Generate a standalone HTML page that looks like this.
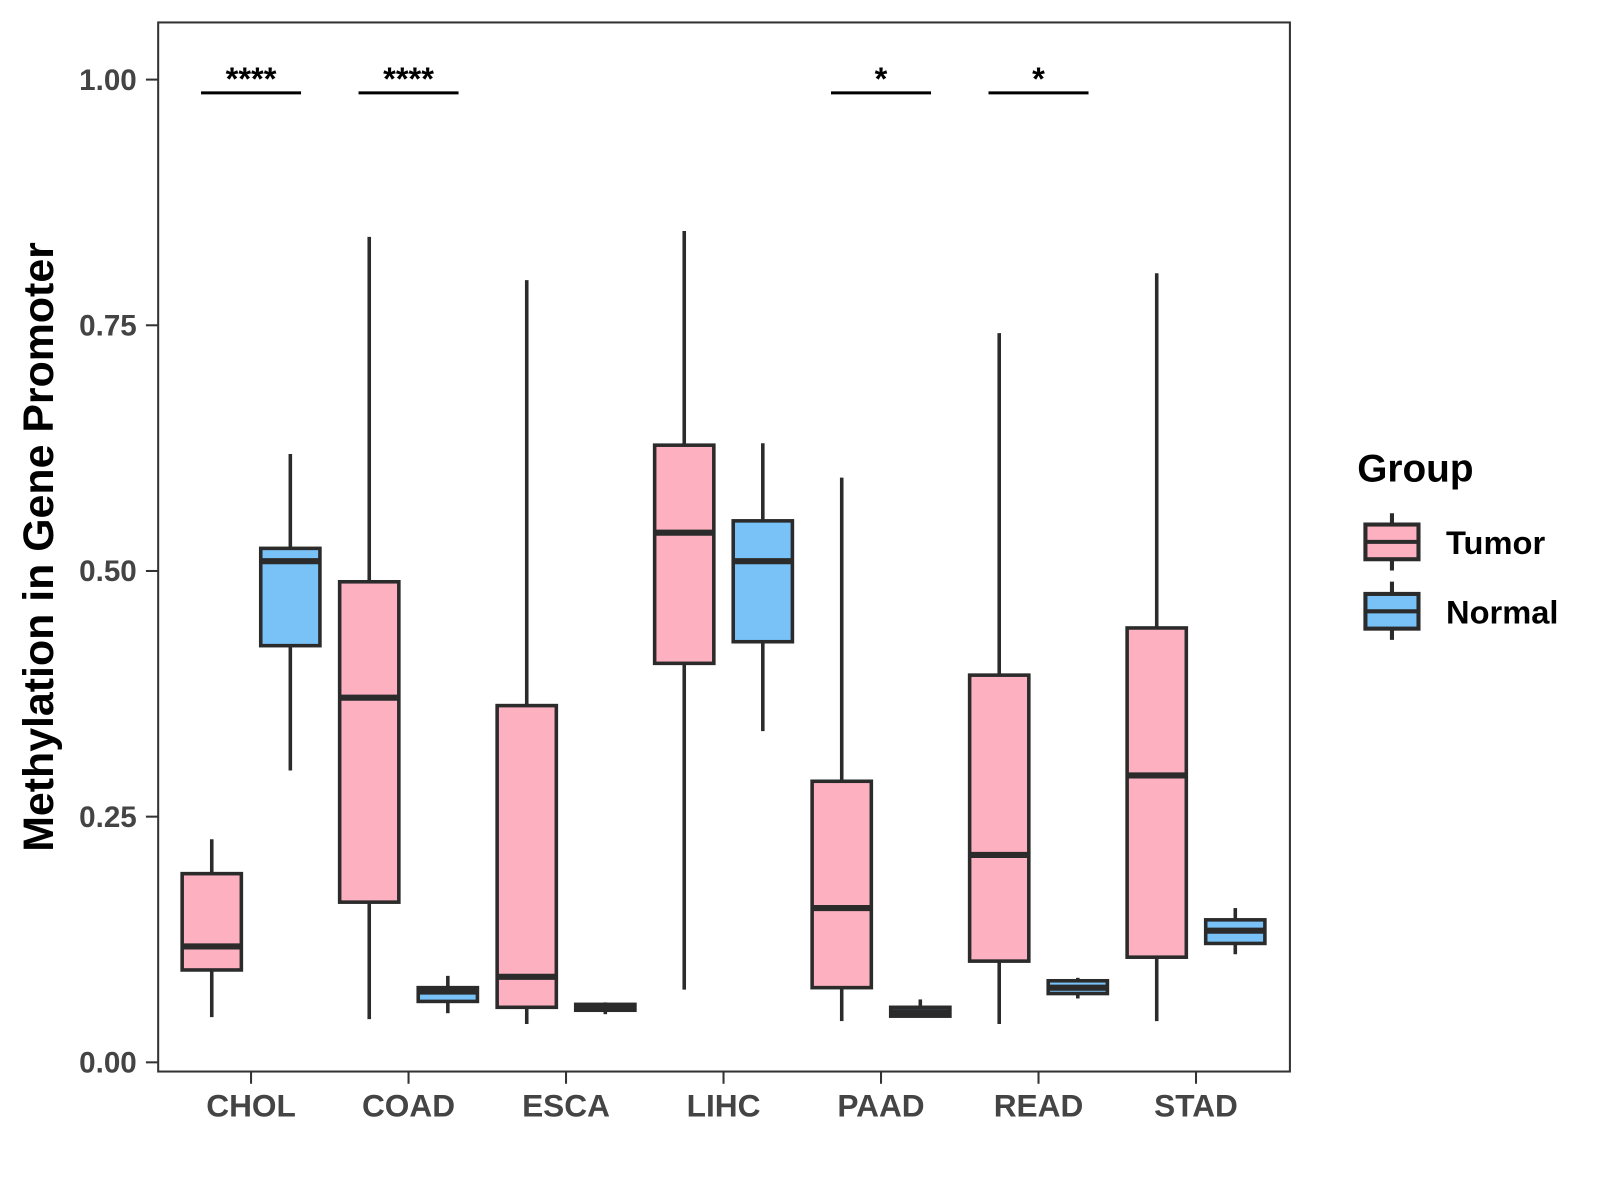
<!DOCTYPE html>
<html><head><meta charset="utf-8"><style>
html,body{margin:0;padding:0;background:#fff;}
svg{display:block;font-family:"Liberation Sans",Arial,sans-serif;}
</style></head><body>
<svg id="chart" width="1600" height="1200" viewBox="0 0 1600 1200">
<rect x="0" y="0" width="1600" height="1200" fill="#fff"/>
<g transform="scale(1.0205)">
<g id="plot"></g>
<rect x="155" y="22" width="1109" height="1028" fill="none" stroke="#333" stroke-width="2"/>
<text x="0" y="0" transform="translate(52,536) rotate(-90)" text-anchor="middle" font-size="42" font-weight="bold" fill="#000">Methylation in Gene Promoter</text>
<g>
<text x="1330" y="472" font-size="38" font-weight="bold">Group</text>
<g>
<line x1="1364" y1="503" x2="1364" y2="559" stroke="#2b2b2b" stroke-width="4"/>
<rect x="1338" y="514" width="52" height="34" fill="#fdb0c0" stroke="#2b2b2b" stroke-width="4"/>
<line x1="1338" y1="531" x2="1390" y2="531" stroke="#2b2b2b" stroke-width="4"/>
<text x="1417" y="543" font-size="32" font-weight="bold">Tumor</text>
</g>
<g>
<line x1="1364" y1="570" x2="1364" y2="627" stroke="#2b2b2b" stroke-width="4"/>
<rect x="1338" y="582" width="52" height="34" fill="#79c2f8" stroke="#2b2b2b" stroke-width="4"/>
<line x1="1338" y1="599" x2="1390" y2="599" stroke="#2b2b2b" stroke-width="4"/>
<text x="1417" y="611" font-size="32" font-weight="bold">Normal</text>
</g>
</g>
</g>
</svg>
<script>
const categories = ["CHOL","COAD","ESCA","LIHC","PAAD","READ","STAD"];
const tumorLow = [0.046,0.044,0.039,0.074,0.042,0.039,0.042];
const tumorQ1 = [0.094,0.163,0.056,0.406,0.076,0.103,0.107];
const tumorMed = [0.118,0.371,0.087,0.539,0.157,0.211,0.292];
const tumorQ3 = [0.192,0.489,0.363,0.628,0.286,0.394,0.442];
const tumorHigh = [0.227,0.840,0.796,0.846,0.595,0.742,0.803];
const normalLow = [0.297,0.050,0.049,0.337,0.047,0.065,0.110];
const normalQ1 = [0.424,0.062,0.053,0.428,0.047,0.070,0.121];
const normalMed = [0.510,0.072,0.056,0.510,0.051,0.076,0.134];
const normalQ3 = [0.523,0.076,0.059,0.551,0.056,0.083,0.145];
const normalHigh = [0.619,0.088,0.061,0.630,0.064,0.086,0.157];
const signif = ["****","****","","","*","*",""];
const yTicks = [0,0.25,0.5,0.75,1.0];
const yTickLabels = ["0.00","0.25","0.50","0.75","1.00"];

const NS="http://www.w3.org/2000/svg";
const g=document.getElementById('plot');
const y=v=>1041-v*963;
const x=i=>246+i*154.33;
function el(t,a,p){const e=document.createElementNS(NS,t);for(const k in a)e.setAttribute(k,a[k]);(p||g).appendChild(e);return e;}

yTicks.forEach((v,i)=>{
  const l=el('line',{x1:143,x2:155,y1:y(v),y2:y(v),stroke:'#333','stroke-width':2});
  
  
  const t=el('text',{x:134,y:y(v)+10,'text-anchor':'end','font-size':29,'font-weight':'bold',fill:'#444'});
  t.textContent=yTickLabels[i];
  
  
});
categories.forEach((c,i)=>{
  const l=el('line',{x1:x(i),x2:x(i),y1:1050,y2:1062,stroke:'#333','stroke-width':2});
  
  
  const t=el('text',{x:x(i),y:1094,'text-anchor':'middle','font-size':31,'font-weight':'bold',fill:'#444'});
  t.textContent=c;
  
  
});
function box(cx,lo,q1,md,q3,hi,fill,name){
  const gg=el('g',{});
  
  
  const s='#2b2b2b';
  el('line',{x1:cx,x2:cx,y1:y(hi),y2:y(q3),stroke:s,'stroke-width':3.5},gg);
  el('line',{x1:cx,x2:cx,y1:y(q1),y2:y(lo),stroke:s,'stroke-width':3.5},gg);
  el('rect',{x:cx-29,y:y(q3),width:58,height:Math.max(y(q1)-y(q3),0.5),fill:fill,stroke:s,'stroke-width':3.5},gg);
  el('line',{x1:cx-29,x2:cx+29,y1:y(md),y2:y(md),stroke:s,'stroke-width':6},gg);
}
categories.forEach((c,i)=>{
  box(x(i)-38.5,tumorLow[i],tumorQ1[i],tumorMed[i],tumorQ3[i],tumorHigh[i],'#fdb0c0','box-tumor-'+c.toLowerCase());
  box(x(i)+38.5,normalLow[i],normalQ1[i],normalMed[i],normalQ3[i],normalHigh[i],'#79c2f8','box-normal-'+c.toLowerCase());
  if(signif[i]){
    const l=el('line',{x1:x(i)-49,x2:x(i)+49,y1:91,y2:91,stroke:'#000','stroke-width':3});
    
    
    const t=el('text',{x:x(i),y:88,'text-anchor':'middle','font-size':32,'font-weight':'bold',fill:'#000'});
    t.textContent=signif[i];
    
    
  }
});
</script>
</body></html>
